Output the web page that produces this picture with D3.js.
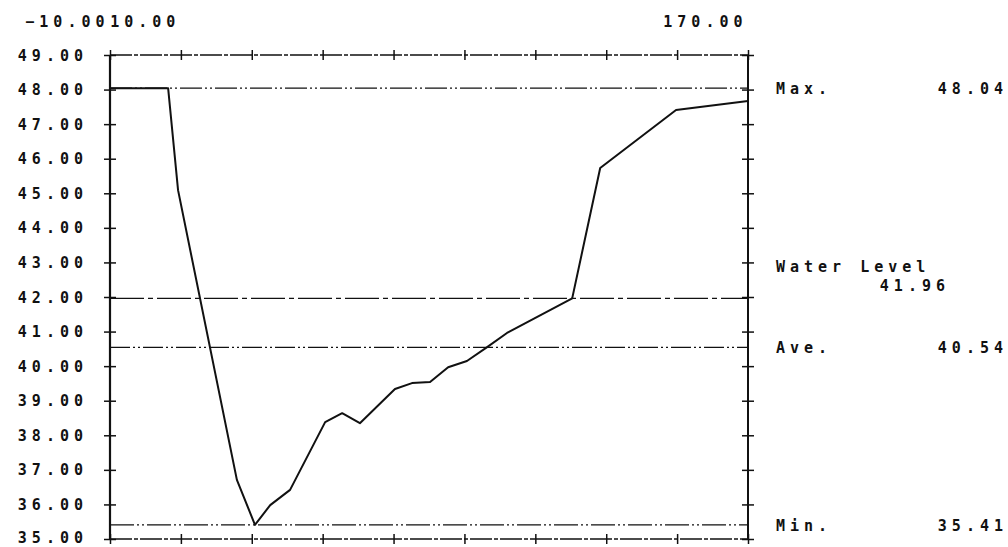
<!DOCTYPE html>
<html>
<head>
<meta charset="utf-8">
<script src="https://cdn.jsdelivr.net/npm/d3@7"></script>
<style>
  html, body { margin: 0; padding: 0; background: #fff; }
  text { font-family: "DejaVu Sans Mono", monospace; font-size: 15px; font-weight: bold; fill: #111; letter-spacing: 5px; }
</style>
</head>
<body>
<svg id="chart" width="1008" height="547"></svg>
<script>
// ---- data ----
const profileX = [-10, 6.4, 9.2, 25.8, 30.9, 35.2, 40.8, 50.7, 55.5, 60.5, 70.4, 75.2, 80.3, 85.4, 90.7, 96.4, 102.0, 120.4, 128.3, 149.7, 170];
const profileY = [48.04, 48.04, 45.09, 36.71, 35.41, 35.98, 36.42, 38.38, 38.64, 38.35, 39.34, 39.51, 39.54, 39.97, 40.15, 40.55, 40.96, 41.96, 45.73, 47.41, 47.67];
const refNames = ["Max.", "Water Level", "Ave.", "Min."];
const refValues = [48.04, 41.96, 40.54, 35.41];
const refLabels = ["48.04", "41.96", "40.54", "35.41"];
const yTickValues = [35, 36, 37, 38, 39, 40, 41, 42, 43, 44, 45, 46, 47, 48, 49];
const xTickValues = [-10, 10, 30, 50, 70, 90, 110, 130, 150, 170];
const xTickLabels = [-10, 10, 170];

// ---- layout ----
const svg = d3.select("#chart");
const x = d3.scaleLinear().domain([-10, 170]).range([110, 748]);
const y = d3.scaleLinear().domain([35, 49]).range([539, 55]);
const fmt = d3.format(".2f");
const LS = 5; // letter-spacing compensation
const textStyle = g => g.style("font-size", "15px").style("font-family", "DejaVu Sans Mono")
  .style("font-weight", "bold").style("letter-spacing", LS + "px").attr("fill", "#111");

// y tick crosses (left and right axes)
[x(-10), x(170)].forEach(px => {
  svg.append("g").attr("transform", `translate(${px},0)`)
    .call(d3.axisLeft(y).tickValues(yTickValues).tickSize(6).tickFormat(""))
    .call(g => g.select(".domain").remove());
  svg.append("g").attr("transform", `translate(${px},0)`)
    .call(d3.axisRight(y).tickValues(yTickValues).tickSize(6).tickFormat(""))
    .call(g => g.select(".domain").remove());
});

// y labels
svg.append("g").attr("transform", `translate(${x(-10)},0)`)
  .call(d3.axisLeft(y).tickValues(yTickValues).tickSize(0).tickPadding(27 - LS).tickFormat(fmt))
  .call(g => g.select(".domain").remove())
  .call(g => g.selectAll("text").attr("dy", d => d === 35 ? "0.26em" : "0.34em").call(textStyle));

// x tick crosses top & bottom
[y(49), y(35)].forEach(py => {
  svg.append("g").attr("transform", `translate(0,${py})`)
    .call(d3.axisTop(x).tickValues(xTickValues).tickSize(5).tickFormat(""))
    .call(g => g.select(".domain").remove());
  svg.append("g").attr("transform", `translate(0,${py})`)
    .call(d3.axisBottom(x).tickValues(xTickValues).tickSize(5).tickFormat(""))
    .call(g => g.select(".domain").remove());
});
svg.selectAll(".tick line").attr("stroke", "#111").attr("stroke-width", 1.5);

// top x labels
svg.append("g").attr("transform", `translate(0,${y(49)})`)
  .call(d3.axisTop(x).tickValues(xTickLabels).tickSize(0).tickPadding(28).tickFormat(fmt))
  .call(g => g.select(".domain").remove())
  .call(g => g.selectAll("text").attr("text-anchor", "end").attr("dx", (-6 + LS) + "px").attr("dy", "0").call(textStyle));

// frame
svg.append("line").attr("x1", x(-10)).attr("x2", x(170)).attr("y1", y(49)).attr("y2", y(49))
  .attr("stroke", "#111").attr("stroke-width", 1.3).attr("stroke-dasharray", "22,2,4,2");
svg.append("line").attr("x1", x(-10)).attr("x2", x(170)).attr("y1", y(35)).attr("y2", y(35))
  .attr("stroke", "#111").attr("stroke-width", 1.3).attr("stroke-dasharray", "22,2,4,2");
svg.append("line").attr("x1", x(-10)).attr("x2", x(-10)).attr("y1", y(49)).attr("y2", y(35))
  .attr("stroke", "#111").attr("stroke-width", 2.2);
svg.append("line").attr("x1", x(170)).attr("x2", x(170)).attr("y1", y(49)).attr("y2", y(35))
  .attr("stroke", "#111").attr("stroke-width", 2);

// reference lines
const dashes = ["22,3,2,3,2,3", "34,4,5,4", "20,3,2,3,2,3", "24,3,2,3,2,3"];
svg.selectAll(".ref").data(refValues).join("line").attr("class", "ref")
  .attr("x1", x(-10)).attr("x2", x(170))
  .attr("y1", d => y(d)).attr("y2", d => y(d))
  .attr("stroke", "#111").attr("stroke-width", 1.3)
  .attr("stroke-dasharray", (d, i) => dashes[i]);

// right labels
const nameY = [y(refValues[0]), y(42.9), y(refValues[2]), y(refValues[3])];
svg.selectAll(".refname").data(refNames).join("text").attr("class", "refname")
  .attr("x", 776).attr("y", (d, i) => nameY[i]).attr("dy", "0.38em").text(d => d);
const valX = [1003, 945, 1003, 1003];
const valY = [y(refValues[0]), y(42.33), y(refValues[2]), y(refValues[3])];
svg.selectAll(".refval").data(refLabels).join("text").attr("class", "refval")
  .attr("x", (d, i) => valX[i] + LS).attr("y", (d, i) => valY[i]).attr("dy", "0.38em")
  .attr("text-anchor", "end").text(d => d);

// profile line
const line = d3.line().x(d => x(d[0])).y(d => y(d[1]));
svg.append("path").datum(d3.zip(profileX, profileY))
  .attr("d", line).attr("fill", "none").attr("stroke", "#111").attr("stroke-width", 2)
  .attr("stroke-linejoin", "round");
</script>
</body>
</html>
